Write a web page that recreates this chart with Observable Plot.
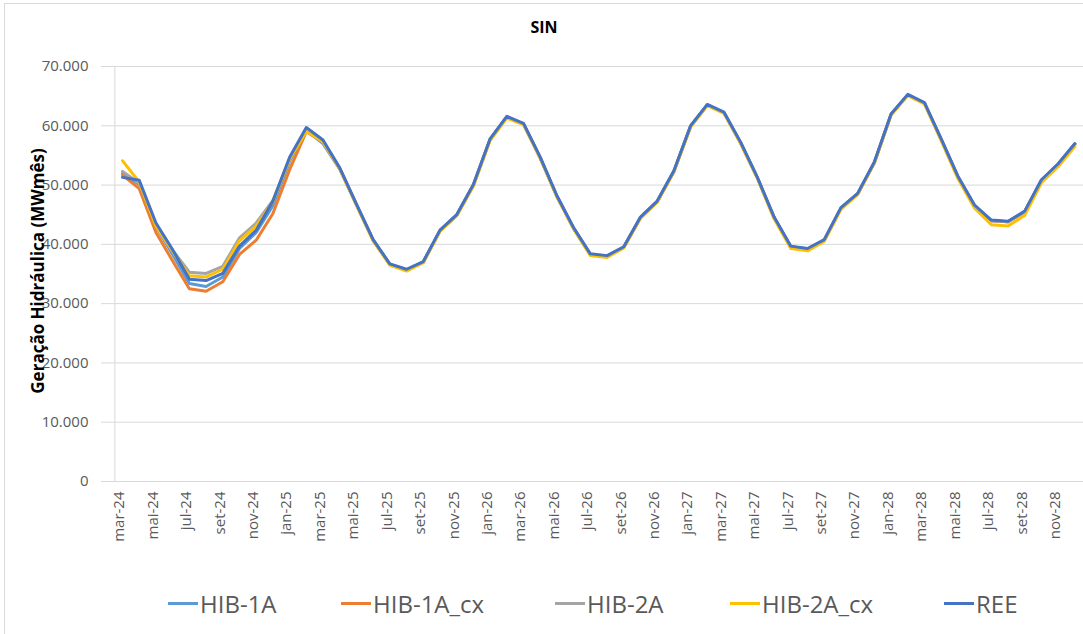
<!DOCTYPE html>
<html><head><meta charset="utf-8">
<script src="https://cdn.jsdelivr.net/npm/d3@7"></script>
<script src="https://cdn.jsdelivr.net/npm/@observablehq/plot@0.6"></script>
<style>
html,body{margin:0;padding:0;background:#fff;overflow:hidden}
#wrap{position:relative;width:1083px;height:634px;overflow:hidden;font-family:"Open Sans",sans-serif;background:#fff}
#frame{position:absolute;left:4px;top:3px;width:1200px;height:660px;border:1px solid #d9d9d9;box-sizing:border-box}
#chart{position:absolute;left:0;top:0}
#title{position:absolute;left:0;width:1088px;top:16px;text-align:center;font-weight:bold;font-size:16px;color:#000}
#ylab{position:absolute;left:37px;top:271px;transform:translate(-50%,-50%) rotate(-90deg);white-space:nowrap;font-weight:bold;font-size:17px;color:#000}
.leg{position:absolute;top:587px;height:32px;display:flex;align-items:center;white-space:nowrap;font-size:24px;color:#595959}
.leg span.sw{display:inline-block;width:30px;height:3px;margin-right:2px}
</style></head><body>
<div id="wrap">
  <div id="frame"></div>
  <div id="chart"></div>
  <div id="title">SIN</div>
  <div id="ylab">Geração Hidráulica (MWmês)</div>
  <div id="legend"></div>
</div>
<script>
const months = ["mar-24","abr-24","mai-24","jun-24","jul-24","ago-24","set-24","out-24","nov-24","dez-24",
  "jan-25","fev-25","mar-25","abr-25","mai-25","jun-25","jul-25","ago-25","set-25","out-25","nov-25","dez-25",
  "jan-26","fev-26","mar-26","abr-26","mai-26","jun-26","jul-26","ago-26","set-26","out-26","nov-26","dez-26",
  "jan-27","fev-27","mar-27","abr-27","mai-27","jun-27","jul-27","ago-27","set-27","out-27","nov-27","dez-27",
  "jan-28","fev-28","mar-28","abr-28","mai-28","jun-28","jul-28","ago-28","set-28","out-28","nov-28","dez-28"];
const xTicks = ["mar-24","mai-24","jul-24","set-24","nov-24","jan-25","mar-25","mai-25","jul-25","set-25","nov-25",
  "jan-26","mar-26","mai-26","jul-26","set-26","nov-26","jan-27","mar-27","mai-27","jul-27","set-27","nov-27",
  "jan-28","mar-28","mai-28","jul-28","set-28","nov-28"];
const yTicks = [0,10000,20000,30000,40000,50000,60000,70000];

const seriesNames = ["HIB-1A","HIB-1A_cx","HIB-2A","HIB-2A_cx","REE"];
const seriesColors = ["#5B9BD5","#ED7D31","#A5A5A5","#FFC000","#4472C4"];

const hib1A = [52000,50100,43000,38300,33400,32900,34500,39300,42000,46500,54000,59200,57000,52700,
  46700,40700,36600,35700,37000,42300,44900,50000,57700,61500,60300,54600,48100,42700,38300,38000,39500,44500,47200,52300,
  59900,63500,62200,57100,51200,44500,39600,39200,40700,46100,48500,53800,61900,65200,63800,57700,51400,46500,44000,43800,45500,50800,53500,56900];
const hib1Acx = [51700,49400,42000,37200,32500,32100,33700,38300,40700,45200,52600,59000,57300,52800,
  46700,40700,36600,35700,37000,42300,44900,50000,57700,61500,60300,54600,48100,42700,38300,38000,39500,44500,47200,52300,
  59900,63500,62200,57100,51200,44500,39600,39200,40700,46100,48500,53800,61900,65200,63800,57700,51400,46500,44000,43800,45500,50800,53500,56900];
const hib2A = [52300,50300,43300,39000,35300,35100,36300,41100,43600,47400,54400,59100,57200,52800,
  46700,40700,36600,35700,37000,42300,44900,50000,57700,61500,60300,54600,48100,42700,38300,38000,39500,44500,47200,52300,
  59900,63500,62200,57100,51200,44500,39600,39200,40700,46100,48500,53800,61900,65200,63800,57700,51400,46500,44000,43800,45500,50800,53500,56900];
const hib2Acx = [54100,50500,43100,38800,34700,34500,35800,40600,43100,47200,54400,59100,57300,52700,
  46600,40600,36500,35500,36900,42200,44800,49800,57500,61300,60200,54500,48000,42600,38100,37800,39400,44400,47100,52200,
  59800,63400,62100,57000,51100,44300,39300,38900,40500,45900,48400,53700,61800,65100,63700,57500,51100,46100,43300,43100,44900,50400,53100,56500];
const ree = [51300,50800,43600,39100,34100,33900,35100,39700,42400,47300,54700,59700,57600,52900,
  46800,40800,36700,35800,37100,42400,45000,50100,57800,61600,60400,54700,48200,42800,38400,38100,39600,44600,47300,52400,
  60000,63600,62300,57200,51300,44600,39700,39300,40800,46200,48600,53900,62000,65300,63900,57800,51500,46600,44100,43900,45600,50900,53600,57000];

const seriesValues = [hib1A, hib1Acx, hib2A, hib2Acx, ree];
const data = [];
seriesNames.forEach((name, k) => seriesValues[k].forEach((v, i) => data.push({month: months[i], value: v, series: name})));

const fmt = d => d === 0 ? "0" : d3.format(",")(d).replace(/,/g, ".");

const plot = Plot.plot({
  width: 1083, height: 634,
  marginTop: 66, marginBottom: 153, marginLeft: 106, marginRight: 0,
  style: {fontFamily: "'Open Sans', sans-serif", fontSize: "15px", color: "#595959", background: "transparent", overflow: "visible"},
  x: {type: "point", domain: months, range: [113.7, 1082.7], label: null},
  y: {domain: [0, 70000], label: null},
  color: {domain: seriesNames, range: seriesColors},
  marks: [
    Plot.gridY(yTicks, {stroke: "#d9d9d9", strokeOpacity: 1, strokeWidth: 1}),
    Plot.ruleY([0], {stroke: "#d9d9d9", strokeWidth: 1}),
    Plot.ruleX([months[0]], {dx: -7.7, stroke: "#d9d9d9", strokeWidth: 1}),
    Plot.axisY(yTicks, {tickFormat: fmt, tickSize: 5, tickPadding: 13, stroke: "#d9d9d9", fill: "#595959", label: null}),
    Plot.axisX(xTicks, {tickRotate: -90, tickSize: 0, tickPadding: 10, dx: -3, fill: "#595959", label: null}),
    Plot.line(data, {x: "month", y: "value", z: "series", stroke: "series", strokeWidth: 3, strokeLinejoin: "round", strokeLinecap: "round"})
  ]
});
document.getElementById("chart").appendChild(plot);

const legendLeft = [168, 341, 555, 730, 944];
const leg = document.getElementById("legend");
seriesNames.forEach((name, k) => {
  const item = document.createElement("div");
  item.className = "leg";
  item.style.left = legendLeft[k] + "px";
  const sw = document.createElement("span");
  sw.className = "sw";
  sw.style.background = seriesColors[k];
  item.appendChild(sw);
  item.appendChild(document.createTextNode(name));
  leg.appendChild(item);
});
</script>
</body></html>
